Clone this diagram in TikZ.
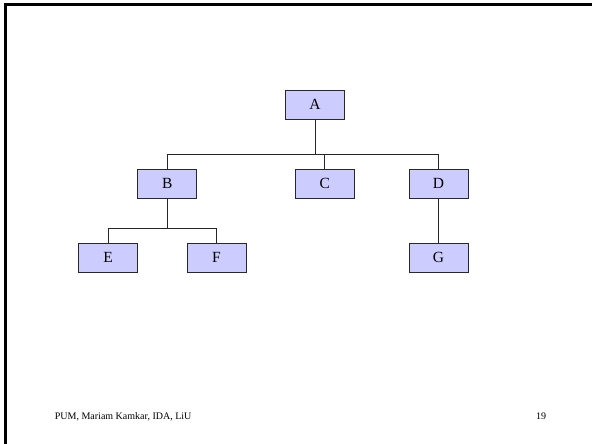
\documentclass[tikz,border=0pt]{standalone}
\usepackage{fontspec}
\setmainfont{Liberation Serif}
\definecolor{boxfill}{RGB}{204,204,255}
\definecolor{boxline}{RGB}{40,40,40}
\begin{document}
\begin{tikzpicture}[x=1pt,y=1pt,
  treebox/.style={rectangle, draw=boxline, fill=boxfill, line width=0.9pt,
    minimum width=59pt, minimum height=29pt, inner sep=0pt,
    font=\fontsize{15.5}{18}\selectfont},
  link/.style={draw=black!85, line width=0.9pt},
  footer/.style={font=\fontsize{10}{12}\selectfont, inner sep=0pt}]
  \useasboundingbox (0,0) rectangle (592,-444);
  % slide frame: top and left edges
  \draw[line width=3.2pt] (5.4,-444) -- (5.4,-4.6) -- (592,-4.6);
  % tree nodes
  \node[treebox] (A) at (315.0,-104.7) {A};
  \node[treebox] (B) at (167.3,-183.7) {B};
  \node[treebox] (C) at (324.8,-183.7) {C};
  \node[treebox] (D) at (438.5,-183.7) {D};
  \node[treebox] (E) at (108.2,-257.7) {E};
  \node[treebox] (F) at (216.5,-257.7) {F};
  \node[treebox] (G) at (438.5,-257.7) {G};
  % bus levels
  \coordinate (busA) at (0,-154);
  \coordinate (busB) at (0,-228);
  % connectors from A
  \draw[link] (A.south) -- (A.south |- busA);
  \draw[link] (B.north) -- (B.north |- busA) -- (D.north |- busA) -- (D.north);
  \draw[link] (C.north) -- (C.north |- busA);
  % connectors from B
  \draw[link] (B.south) -- (B.south |- busB);
  \draw[link] (E.north) -- (E.north |- busB) -- (F.north |- busB) -- (F.north);
  % connector from D
  \draw[link] (D.south) -- (G.north);
  % footer
  \node[footer, anchor=west] (credit) at (54.7,-416.7) {PUM, Mariam Kamkar, IDA, LiU};
  \node[footer] (page) at (541,-416.7) {19};
\end{tikzpicture}
\end{document}
